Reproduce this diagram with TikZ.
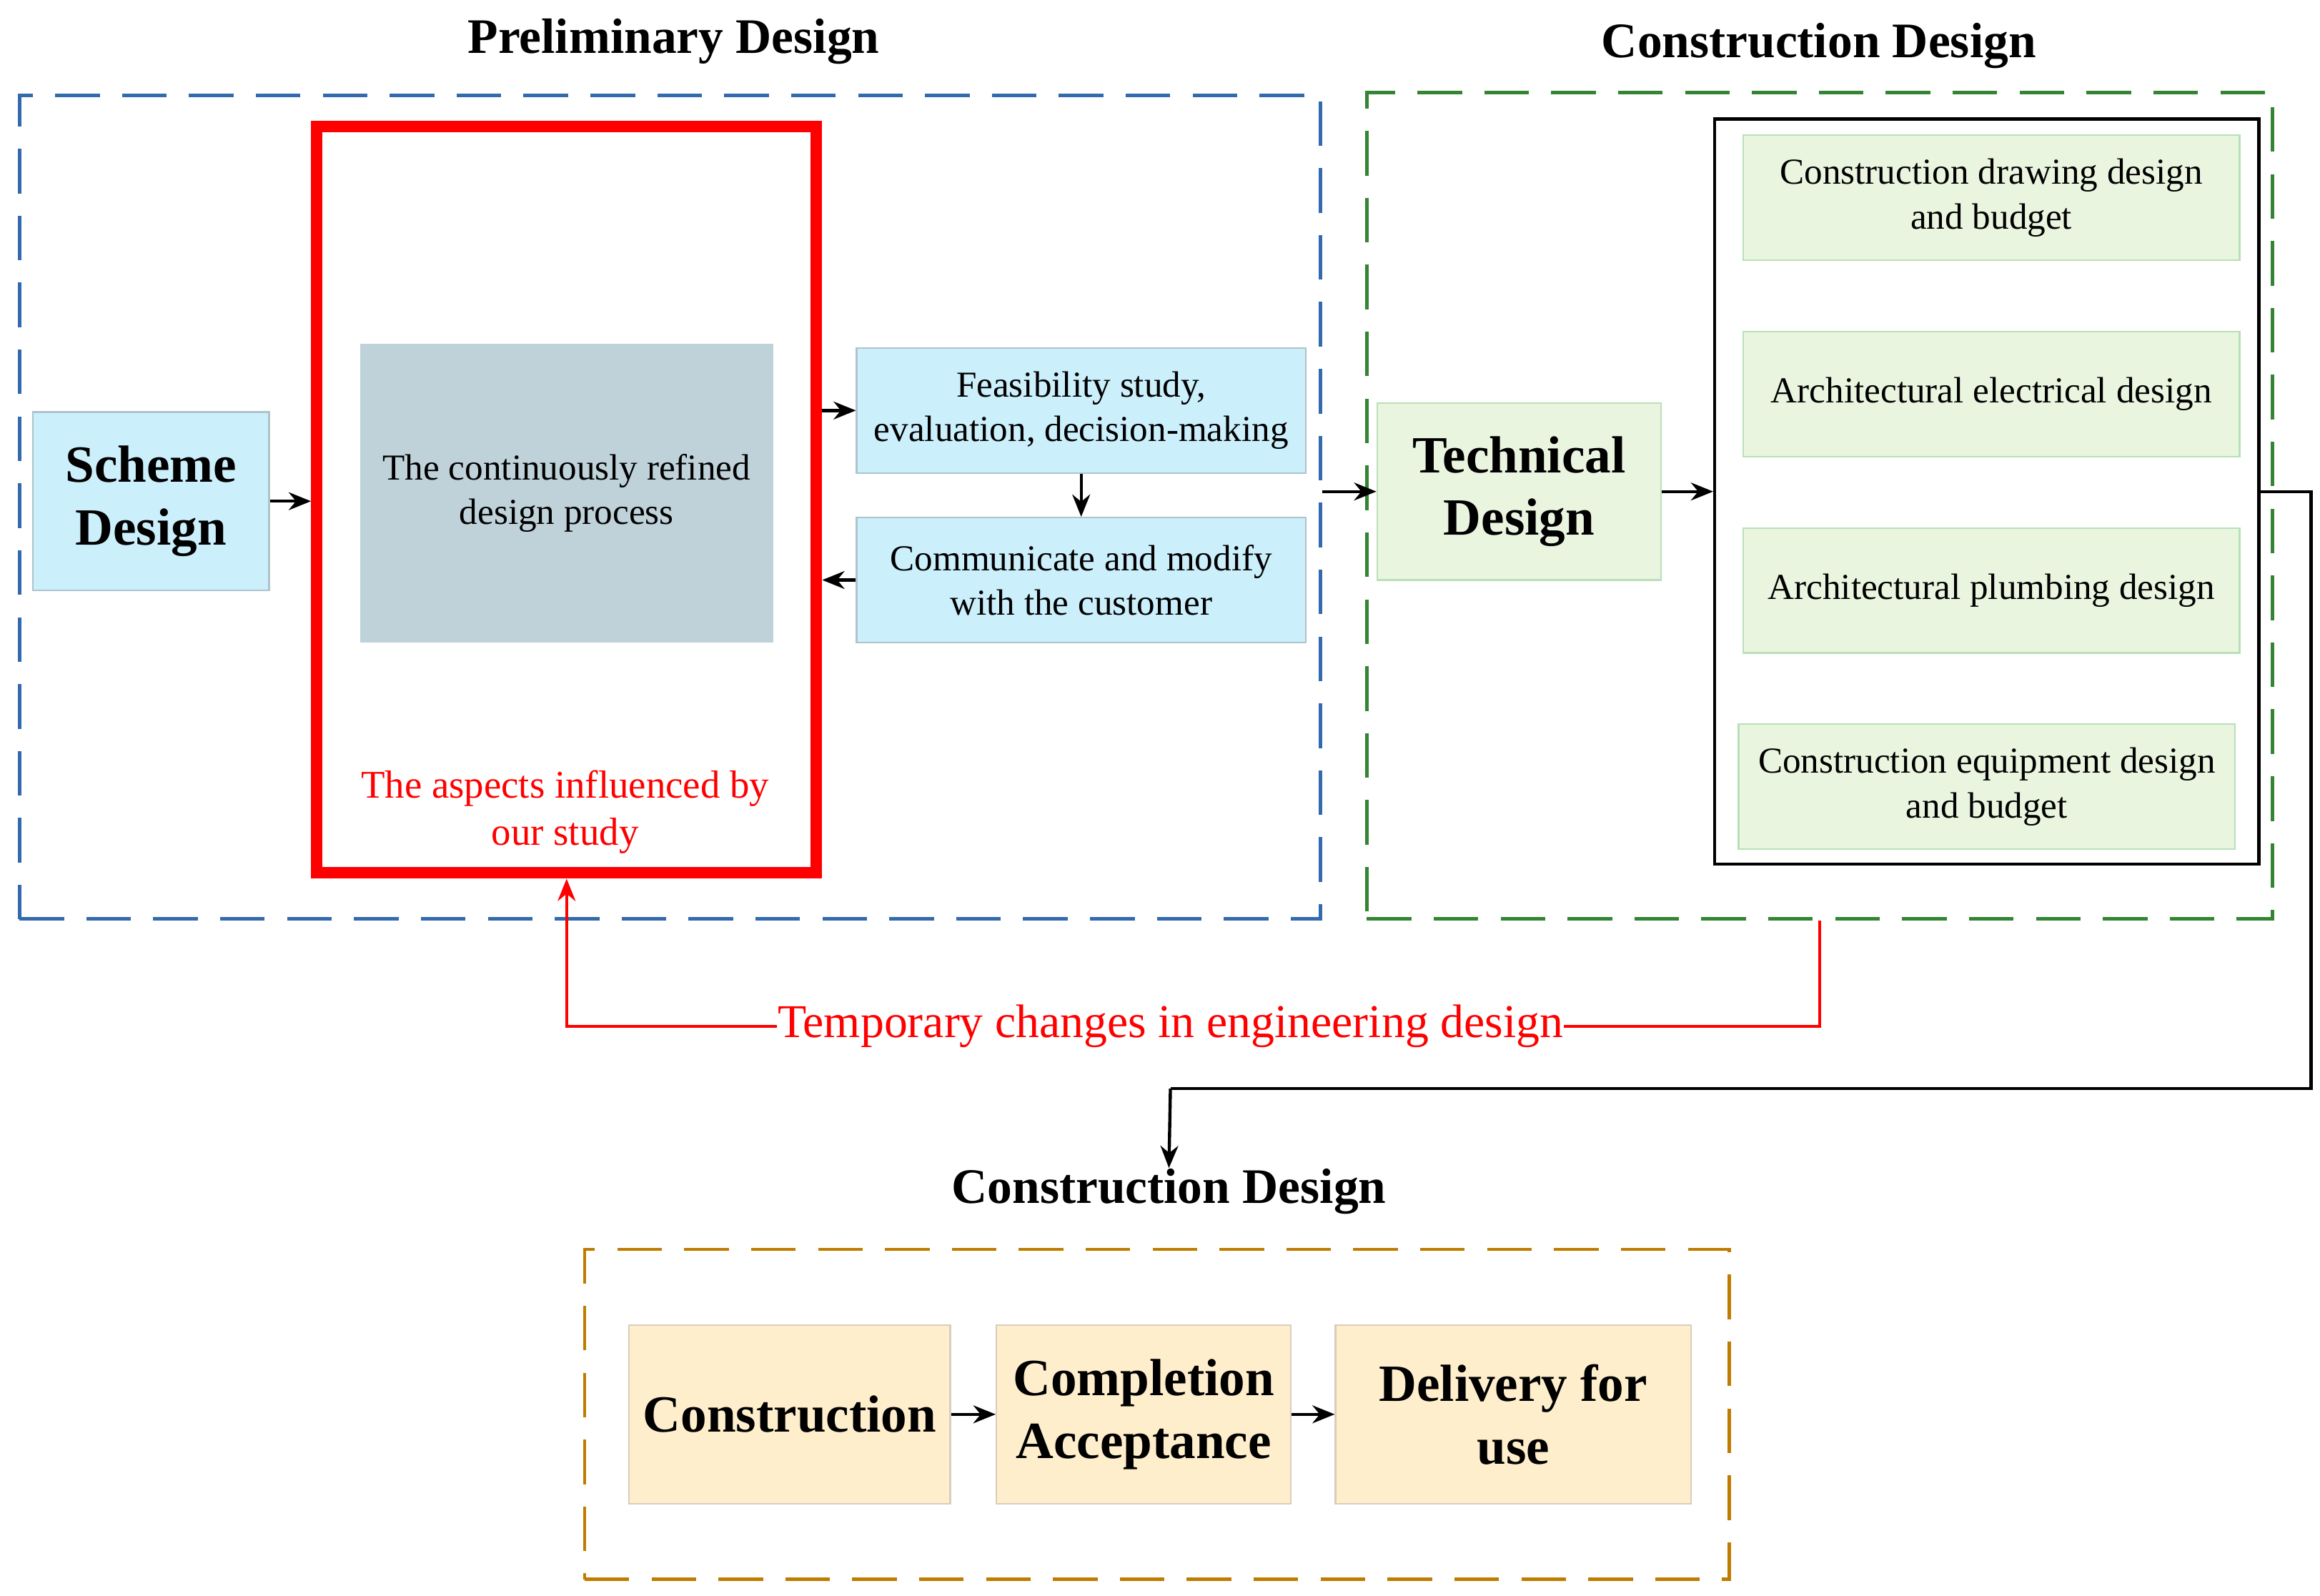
\documentclass[tikz,border=0pt]{standalone}
\usepackage{fontspec}
\setmainfont{Liberation Serif}
\usetikzlibrary{arrows.meta}
\begin{document}
\begin{tikzpicture}[x=0.02cm,y=-0.02cm,
  every node/.style={align=center,inner sep=0pt},
  sm/.style={font=\fontsize{14}{17}\selectfont},
  bg/.style={font=\fontsize{20}{24}\selectfont\bfseries},
  ttl/.style={font=\fontsize{19}{23}\selectfont\bfseries},
  cyanbox/.style={fill=cyan!20,draw=cyan!25!gray!60,line width=0.6pt},
  greenbox/.style={fill=green!35!olive!12,draw=green!40!gray!40,line width=0.6pt},
  goldbox/.style={fill=yellow!35!orange!18,draw=orange!30!gray!40,line width=0.6pt},
  dbox/.style={draw,line width=1.3pt,dash pattern=on 6mm off 3mm},
  arr/.style={-{Stealth[length=3mm,width=2.4mm]},line width=1.2pt}]
\useasboundingbox (0,0) rectangle (1560,1073);
\node[dbox,draw=blue!55!cyan!60!black!80,minimum width=17.5cm,minimum height=11.08cm] (bluebox) at (450.5,341) {};
\node[dbox,draw=green!40!black!80,minimum width=12.18cm,minimum height=11.12cm] (greenbox) at (1223.5,340) {};
\node[dbox,draw=orange!70!yellow!75!black,minimum width=15.4cm,minimum height=4.44cm] (goldbox) at (778,951) {};
\node[ttl] (t1) at (453,28) {Preliminary Design};
\node[ttl] (t2) at (1223,31) {Construction Design};
\node[ttl] (t3) at (786,801) {Construction Design};
\node[cyanbox,bg,minimum width=3.18cm,minimum height=2.4cm] (scheme) at (101.5,337) {Scheme\\Design};
\node[draw=red,line width=2.5mm/1.6,minimum width=6.72cm,minimum height=10.04cm] (redbox) at (381,336) {};
\node[fill=blue!30!cyan!25!gray!40,sm,minimum width=5.56cm,minimum height=4.02cm] (proc) at (381,331.5) {The continuously refined\\design process};
\node[sm,text=red,font=\fontsize{15}{18}\selectfont] (asp) at (380,546) {The aspects influenced by\\our study};
\node[cyanbox,sm,minimum width=6.04cm,minimum height=1.68cm] (feas) at (727,276) {Feasibility study,\\evaluation, decision-making};
\node[cyanbox,sm,minimum width=6.04cm,minimum height=1.68cm] (comm) at (727,390) {Communicate and modify\\with the customer};
\node[greenbox,bg,minimum width=3.82cm,minimum height=2.38cm] (tech) at (1021.5,330.5) {Technical\\Design};
\node[draw,line width=1.2pt,minimum width=7.32cm,minimum height=10.02cm] (blk) at (1336,330.5) {};
\node[greenbox,sm,minimum width=6.68cm,minimum height=1.68cm] (g1) at (1339,133) {Construction drawing design\\and budget};
\node[greenbox,sm,minimum width=6.68cm,minimum height=1.68cm] (g2) at (1339,265) {Architectural electrical design};
\node[greenbox,sm,minimum width=6.68cm,minimum height=1.68cm] (g3) at (1339,397) {Architectural plumbing design};
\node[greenbox,sm,minimum width=6.68cm,minimum height=1.68cm] (g4) at (1336,529) {Construction equipment design\\and budget};
\node[goldbox,bg,minimum width=4.32cm,minimum height=2.4cm] (c1) at (531,951) {Construction};
\node[goldbox,bg,minimum width=3.96cm,minimum height=2.4cm] (c2) at (769,951) {Completion\\Acceptance};
\node[goldbox,bg,minimum width=4.78cm,minimum height=2.4cm] (c3) at (1017.5,951) {Delivery for\\use};
\node[text=red,font=\fontsize{18}{22}\selectfont] (tmp) at (787,690) {Temporary changes in engineering design};
\coordinate (turn) at (787,732);
\draw[arr] (scheme.east) -- (scheme.east -| redbox.west);
\draw[arr] (redbox.east |- feas) -- (feas.west);
\draw[arr] (feas.south) -- (comm.north);
\draw[arr] (comm.west) -- (comm.west -| redbox.east);
\draw[arr] (tech.west -| bluebox.east) -- (tech.west);
\draw[arr] (tech.east) -- (tech.east -| blk.west);
\draw[line width=1.2pt] (blk.east) -- ++(34,0) |- (turn);
\draw[arr] (turn) -- (t3.north);
\draw[arr] (c1.east) -- (c2.west);
\draw[arr] (c2.east) -- (c3.west);
\draw[red,line width=1.2pt] (greenbox.south) |- (tmp.east);
\draw[red,arr] (tmp.west) -| (redbox.south);
\end{tikzpicture}
\end{document}
